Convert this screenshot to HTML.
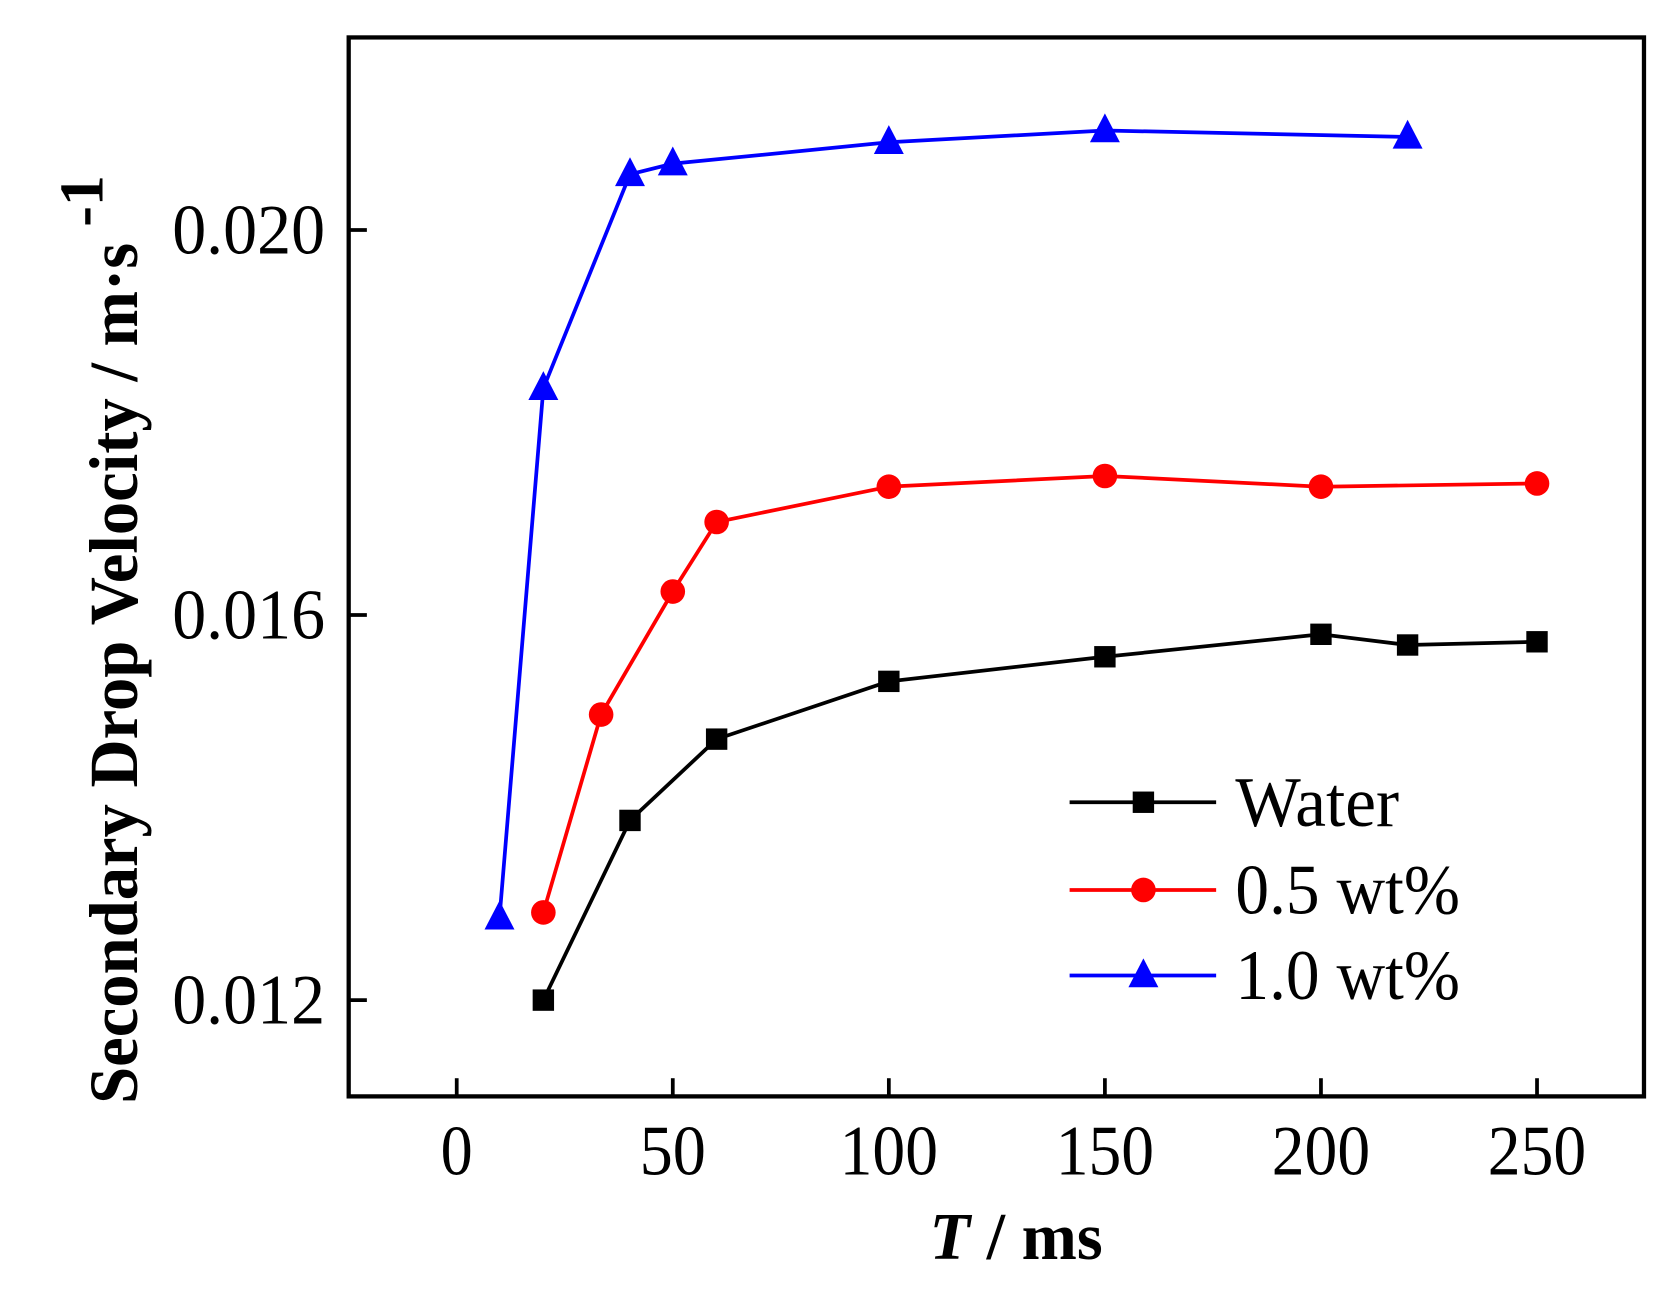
<!DOCTYPE html>
<html><head><meta charset="utf-8"><style>html,body{margin:0;padding:0;background:#fff}svg{display:block}</style></head>
<body>
<svg width="1675" height="1290" viewBox="0 0 1566 1206" preserveAspectRatio="none" xmlns="http://www.w3.org/2000/svg" font-family="Liberation Serif, serif">
<rect x="0" y="0" width="1566" height="1206" fill="#fff"/>
<rect x="326" y="35" width="1211" height="990" fill="none" stroke="#000" stroke-width="4"/>
<g stroke="#000" stroke-width="3.5">
<line x1="427" y1="1025" x2="427" y2="1008"/><line x1="629" y1="1025" x2="629" y2="1008"/><line x1="831" y1="1025" x2="831" y2="1008"/><line x1="1033" y1="1025" x2="1033" y2="1008"/><line x1="1235" y1="1025" x2="1235" y2="1008"/><line x1="1437" y1="1025" x2="1437" y2="1008"/>
<line x1="326" y1="215" x2="343" y2="215"/><line x1="326" y1="575" x2="343" y2="575"/><line x1="326" y1="935" x2="343" y2="935"/>
</g>
<g font-size="66" fill="#000" text-anchor="middle">
<text x="427" y="1098" textLength="30" lengthAdjust="spacingAndGlyphs">0</text><text x="629" y="1098" textLength="62" lengthAdjust="spacingAndGlyphs">50</text><text x="831" y="1098" textLength="92" lengthAdjust="spacingAndGlyphs">100</text><text x="1033" y="1098" textLength="92" lengthAdjust="spacingAndGlyphs">150</text><text x="1235" y="1098" textLength="92" lengthAdjust="spacingAndGlyphs">200</text><text x="1437" y="1098" textLength="92" lengthAdjust="spacingAndGlyphs">250</text>
</g>
<g font-size="66" fill="#000" text-anchor="end">
<text x="304" y="237" textLength="143" lengthAdjust="spacingAndGlyphs">0.020</text>
<text x="304" y="597" textLength="143" lengthAdjust="spacingAndGlyphs">0.016</text>
<text x="304" y="957" textLength="143" lengthAdjust="spacingAndGlyphs">0.012</text>
</g>
<text x="950" y="1177" font-size="62" font-weight="bold" text-anchor="middle"><tspan font-style="italic">T</tspan> / ms</text>
<g transform="translate(128,1032) rotate(-90)">
<text x="0" y="0" font-size="64" font-weight="bold" textLength="805" lengthAdjust="spacingAndGlyphs">Secondary Drop Velocity / m·s</text>
<text x="820" y="-32" font-size="58" font-weight="bold">-1</text>
</g>
<polyline fill="none" stroke="#0000ff" stroke-width="3.5" points="467,858 508,363 589,163 629,153 831,133 1033,122 1316,128"/>
<g fill="#0000ff">
<polygon points="467,842 453,869 481,869"/><polygon points="508,347 494,374 522,374"/><polygon points="589,147 575,174 603,174"/><polygon points="629,137 615,164 643,164"/><polygon points="831,117 817,144 845,144"/><polygon points="1033,106 1019,133 1047,133"/><polygon points="1316,112 1302,139 1330,139"/>
</g>
<polyline fill="none" stroke="#ff0000" stroke-width="3.5" points="508,853 562,668 629,553 670,488 831,455 1033,445 1235,455 1437,452"/>
<g fill="#ff0000">
<circle cx="508" cy="853" r="11.5"/><circle cx="562" cy="668" r="11.5"/><circle cx="629" cy="553" r="11.5"/><circle cx="670" cy="488" r="11.5"/><circle cx="831" cy="455" r="11.5"/><circle cx="1033" cy="445" r="11.5"/><circle cx="1235" cy="455" r="11.5"/><circle cx="1437" cy="452" r="11.5"/>
</g>
<polyline fill="none" stroke="#000" stroke-width="3.5" points="508,935 589,767 670,691 831,637 1033,614 1235,593 1316,603 1437,600"/>
<g fill="#000">
<rect x="498" y="925" width="20" height="20"/><rect x="579" y="757" width="20" height="20"/><rect x="660" y="681" width="20" height="20"/><rect x="821" y="627" width="20" height="20"/><rect x="1023" y="604" width="20" height="20"/><rect x="1225" y="583" width="20" height="20"/><rect x="1306" y="593" width="20" height="20"/><rect x="1427" y="590" width="20" height="20"/>
</g>
<line x1="1000" y1="750" x2="1137" y2="750" stroke="#000" stroke-width="3.5"/><rect x="1059" y="740" width="20" height="20" fill="#000"/>
<line x1="1000" y1="832" x2="1137" y2="832" stroke="#ff0000" stroke-width="3.5"/><circle cx="1069" cy="832" r="11.5" fill="#ff0000"/>
<line x1="1000" y1="912" x2="1137" y2="912" stroke="#0000ff" stroke-width="3.5"/><polygon points="1069,896 1055,923 1083,923" fill="#0000ff"/>
<g font-size="66" fill="#000">
<text x="1155" y="772" textLength="153" lengthAdjust="spacingAndGlyphs">Water</text><text x="1155" y="854" textLength="210" lengthAdjust="spacingAndGlyphs">0.5 wt%</text><text x="1155" y="934" textLength="210" lengthAdjust="spacingAndGlyphs">1.0 wt%</text>
</g>
</svg>
</body></html>
